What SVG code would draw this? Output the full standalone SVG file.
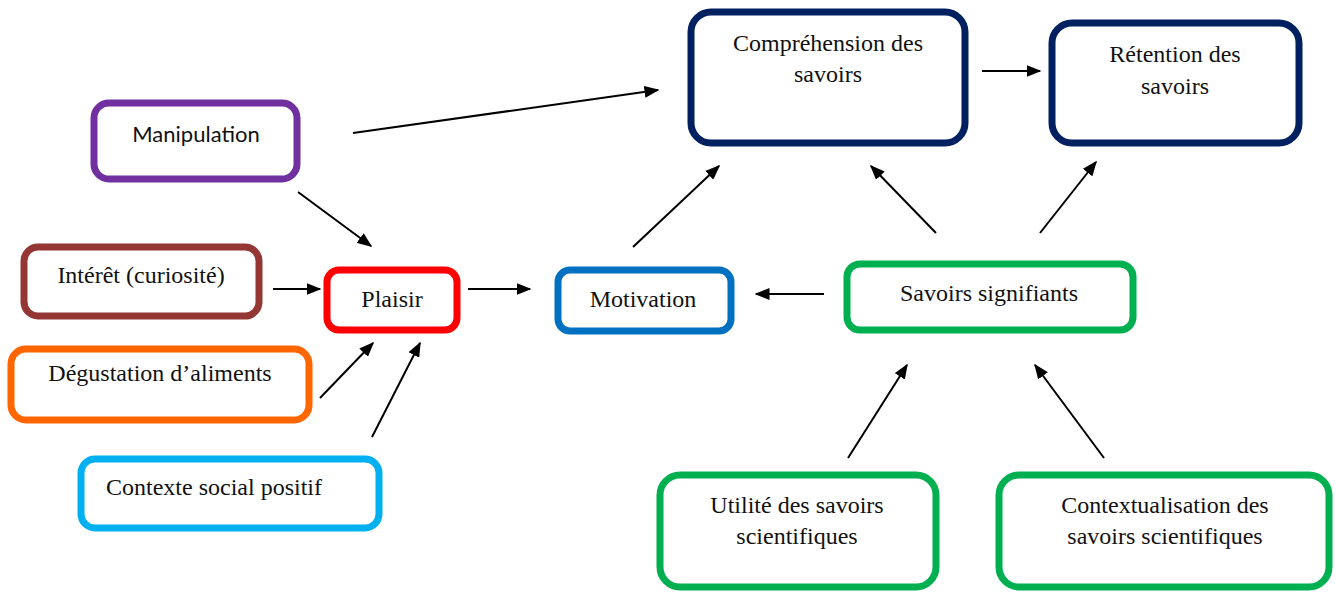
<svg xmlns="http://www.w3.org/2000/svg" width="1336" height="592" viewBox="0 0 1336 592">
<style>
.box{fill:#fff;stroke-width:7}
.t{font-family:"Liberation Serif","Times New Roman",serif;font-size:24px;fill:#111;text-anchor:middle}
.s{font-family:Lato,"Open Sans",sans-serif;font-size:22px;fill:#111;text-anchor:middle}
.c line{stroke:#000;stroke-width:2;marker-end:url(#ah)}
</style>
<defs>
<marker id="ah" viewBox="0 0 10 10" refX="9" refY="5" markerWidth="15" markerHeight="12" markerUnits="userSpaceOnUse" orient="auto" preserveAspectRatio="none">
<path d="M0,0 L10,5 L0,10 z" fill="#000"/>
</marker>
</defs>
<rect width="1336" height="592" fill="#fff"/>
<g id="manipulation"><rect class="box" x="94" y="103" width="203" height="76" rx="15" stroke="#7030A0"/><text class="s" x="196" y="142">Manipulation</text></g>
<g id="interet"><rect class="box" x="24" y="247" width="235" height="69" rx="14" stroke="#943634"/><text class="t" x="141" y="283">Intérêt (curiosité)</text></g>
<g id="plaisir"><rect class="box" x="327" y="270" width="130" height="60" rx="12" stroke="#FF0000"/><text class="t" x="392" y="307">Plaisir</text></g>
<g id="degustation"><rect class="box" x="11" y="349" width="298" height="71" rx="15" stroke="#FF6600"/><text class="t" x="160" y="381">Dégustation d’aliments</text></g>
<g id="contexte"><rect class="box" x="81" y="459" width="298" height="69" rx="14" stroke="#00B0F0"/><text class="t" x="214" y="495">Contexte social positif</text></g>
<g id="motivation"><rect class="box" x="558" y="270" width="173" height="61" rx="12" stroke="#0070C0"/><text class="t" x="643" y="307">Motivation</text></g>
<g id="comprehension"><rect class="box" x="691" y="12" width="274" height="131" rx="20" stroke="#002060"/><text class="t" x="828" y="51">Compréhension des</text><text class="t" x="828" y="82">savoirs</text></g>
<g id="retention"><rect class="box" x="1052" y="23" width="247" height="120" rx="20" stroke="#002060"/><text class="t" x="1175" y="62">Rétention des</text><text class="t" x="1175" y="94">savoirs</text></g>
<g id="savoirs"><rect class="box" x="847" y="264" width="286" height="66" rx="13" stroke="#00B050"/><text class="t" x="989" y="301">Savoirs signifiants</text></g>
<g id="utilite"><rect class="box" x="660" y="475" width="276" height="112" rx="20" stroke="#00B050"/><text class="t" x="797" y="513">Utilité des savoirs</text><text class="t" x="797" y="544">scientifiques</text></g>
<g id="contextualisation"><rect class="box" x="999" y="475" width="330" height="112" rx="20" stroke="#00B050"/><text class="t" x="1165" y="513">Contextualisation des</text><text class="t" x="1165" y="544">savoirs scientifiques</text></g>
<g id="connectors" class="c">
<line x1="353" y1="133" x2="658" y2="90"/>
<line x1="298" y1="192" x2="371" y2="246"/>
<line x1="273" y1="289" x2="320" y2="289"/>
<line x1="320" y1="398" x2="373" y2="343"/>
<line x1="372" y1="437" x2="420" y2="343"/>
<line x1="468" y1="289" x2="530" y2="289"/>
<line x1="633" y1="247" x2="719" y2="166"/>
<line x1="824" y1="294" x2="756" y2="294"/>
<line x1="936" y1="233" x2="871" y2="166"/>
<line x1="1040" y1="233" x2="1096" y2="162"/>
<line x1="982" y1="71" x2="1040" y2="71"/>
<line x1="848" y1="458" x2="907" y2="365"/>
<line x1="1104" y1="458" x2="1035" y2="365"/>
</g>
</svg>
